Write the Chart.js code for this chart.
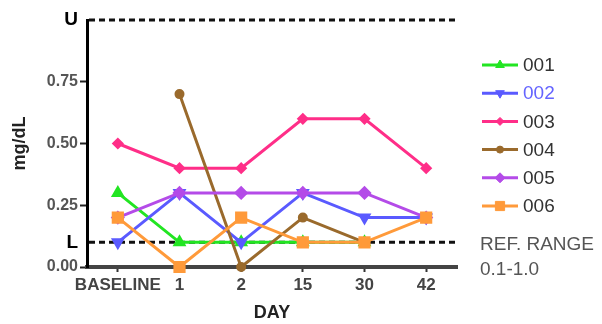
<!DOCTYPE html>
<html>
<head>
<meta charset="utf-8">
<script src="https://cdn.jsdelivr.net/npm/chart.js@4.4.1/dist/chart.umd.min.js"></script>
<style>
  html, body { margin: 0; padding: 0; background: #fff; }
  #wrap { width: 602px; height: 324px; }
</style>
</head>
<body>
<div id="wrap"><canvas id="dayChart" width="602" height="324"></canvas></div>
<script>
const days = ['BASELINE', '1', '2', '15', '30', '42'];
const subjects = ['001', '002', '003', '004', '005', '006'];
const s001 = [0.3, 0.1, 0.1, 0.1, 0.1, null];
const s002 = [0.1, 0.3, 0.1, 0.3, 0.2, 0.2];
const s003 = [0.5, 0.4, 0.4, 0.6, 0.6, 0.4];
const s004 = [null, 0.7, 0.0, 0.2, 0.1, null];
const s005 = [0.2, 0.3, 0.3, 0.3, 0.3, 0.2];
const s006 = [0.2, 0.0, 0.2, 0.1, 0.1, 0.2];
const yTicks = [0, 0.1, 0.25, 0.5, 0.75, 1.0];
const refLow = 0.1;
const refHigh = 1.0;
const refText = ['REF. RANGE', '0.1-1.0'];

const FONT = '"Liberation Sans", Arial, sans-serif';

const styles = [
    { color: '#22e522', point: 'triangle', radius: 5, rotation: 0 },
    { color: '#5a5aff', point: 'triangle', radius: 5, rotation: 180 },
    { color: '#ff2e88', point: 'rectRot', radius: 4, rotation: 0 },
    { color: '#9a6a2c', point: 'circle', radius: 3.5, rotation: 0 },
    { color: '#b44be8', point: 'rectRot', radius: 5, rotation: 0 },
    { color: '#ff9a3a', point: 'rect', radius: 6.5, rotation: 0 }
];
const seriesData = [s001, s002, s003, s004, s005, s006];

const isRef = c => !!(c && c.tick && (c.tick.value === refLow || c.tick.value === refHigh));

const datasets = seriesData.map((vals, i) => ({
    label: subjects[i],
    data: vals,
    borderColor: styles[i].color,
    backgroundColor: styles[i].color,
    pointBackgroundColor: styles[i].color,
    pointBorderColor: styles[i].color,
    pointStyle: styles[i].point,
    pointRadius: styles[i].radius,
    pointRotation: styles[i].rotation,
    borderWidth: 3,
    tension: 0,
    clip: false,
    order: subjects.length - i
}));

// dashed lines for the reference range limits
const refLines = {
    id: 'refLines',
    beforeDatasetsDraw(chart) {
        const { ctx, chartArea } = chart;
        const y = chart.scales.y;
        ctx.save();
        ctx.strokeStyle = '#111';
        ctx.lineWidth = 3;
        ctx.setLineDash([6, 4]);
        [refHigh, refLow].forEach(v => {
            const py = y.getPixelForValue(v);
            ctx.beginPath();
            ctx.moveTo(chartArea.left + 2, py);
            ctx.lineTo(chartArea.right, py);
            ctx.stroke();
        });
        ctx.restore();
    }
};

// legend with line + marker samples and the range note
const sideLegend = {
    id: 'sideLegend',
    afterDraw(chart) {
        const { ctx, chartArea } = chart;
        const x0 = chartArea.right + 25;
        ctx.save();
        chart.data.datasets.forEach((ds, i) => {
            const yy = 65 + i * 28.2;
            ctx.strokeStyle = ds.borderColor;
            ctx.lineWidth = 3;
            ctx.setLineDash([]);
            ctx.beginPath();
            ctx.moveTo(x0, yy);
            ctx.lineTo(x0 + 36, yy);
            ctx.stroke();
            ctx.fillStyle = ds.borderColor;
            ctx.lineWidth = 1;
            Chart.helpers.drawPoint(ctx, {
                pointStyle: ds.pointStyle,
                radius: ds.pointRadius,
                rotation: ds.pointRotation,
                borderWidth: 1
            }, x0 + 18, yy);
            ctx.font = '19px ' + FONT;
            ctx.textBaseline = 'middle';
            ctx.textAlign = 'left';
            ctx.fillStyle = i === 1 ? '#6464ff' : '#333';
            ctx.fillText(ds.label, x0 + 41, yy + 1);
        });
        ctx.font = '19px ' + FONT;
        ctx.fillStyle = '#555';
        ctx.textBaseline = 'middle';
        ctx.fillText(refText[0], chartArea.right + 23, 245);
        ctx.fillText(refText[1], chartArea.right + 23, 270);
        ctx.restore();
    }
};

new Chart(document.getElementById('dayChart'), {
    type: 'line',
    data: { labels: days, datasets: datasets },
    plugins: [refLines, sideLegend],
    options: {
        responsive: false,
        animation: false,
        layout: { padding: { top: 20, right: 145, left: 0, bottom: 0 } },
        plugins: { legend: { display: false }, tooltip: { enabled: false } },
        scales: {
            x: {
                type: 'category',
                offset: true,
                afterFit: s => { s.height = 57; },
                border: { color: '#444', width: 4 },
                grid: { drawOnChartArea: false, offset: false, tickColor: '#333', tickLength: 5, tickWidth: 2 },
                ticks: { color: '#444', padding: 3, maxRotation: 0, minRotation: 0, autoSkip: false,
                         font: { family: FONT, size: 17, weight: 'bold' } },
                title: { display: true, text: 'DAY', color: '#222', padding: { top: 0, bottom: 0 },
                         font: { family: FONT, size: 18, weight: 'bold' } }
            },
            y: {
                min: 0,
                max: 1.0,
                afterFit: s => { s.width = 87; },
                afterBuildTicks: s => { s.ticks = yTicks.map(v => ({ value: v })); },
                border: { color: '#000', width: 3 },
                grid: {
                    drawOnChartArea: false,
                    tickLength: 7,
                    tickWidth: 2,
                    tickColor: c => isRef(c) ? 'rgba(0,0,0,0)' : '#222'
                },
                ticks: {
                    padding: 2,
                    color: c => isRef(c) ? '#000' : '#555',
                    font: c => ({ family: FONT, size: isRef(c) ? 19 : 16, weight: 'bold' }),
                    callback: v => v === refLow ? 'L' : (v === refHigh ? 'U' : v.toFixed(2))
                },
                title: { display: true, text: 'mg/dL', color: '#222', padding: { top: 9, bottom: 0 },
                         font: { family: FONT, size: 18, weight: 'bold' } }
            }
        }
    }
});
</script>
</body>
</html>
